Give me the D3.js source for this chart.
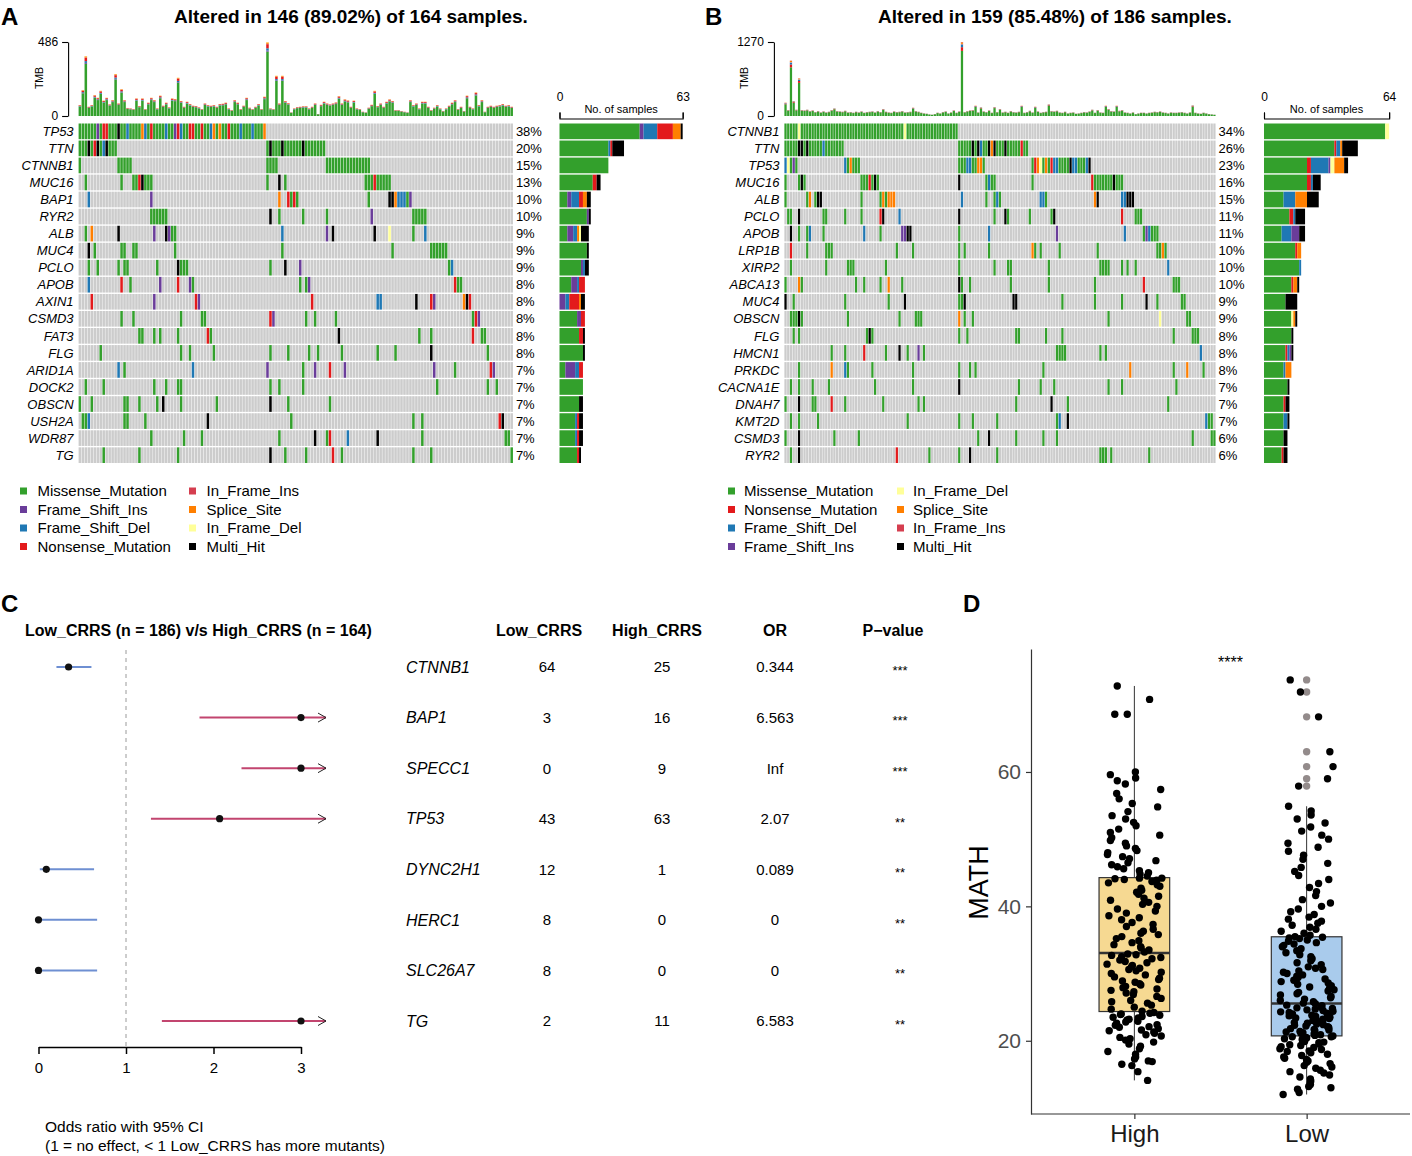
<!DOCTYPE html>
<html>
<head>
<meta charset="utf-8">
<script src="https://cdn.jsdelivr.net/npm/d3@7/dist/d3.min.js"></script>
<style>
html,body{margin:0;padding:0;background:#fff;}
svg text{font-family:"Liberation Sans",Arial,Helvetica,sans-serif;}
</style>
</head>
<body>
<svg id="chart" width="1412" height="1156"></svg>
<script>
// ================= DATA =================
const mutTypeNames = {M:"Missense_Mutation",P:"Frame_Shift_Ins",B:"Frame_Shift_Del",N:"Nonsense_Mutation",I:"In_Frame_Ins",S:"Splice_Site",D:"In_Frame_Del",X:"Multi_Hit"};
const mutColors = {Missense_Mutation:"#33A02C",Frame_Shift_Ins:"#6A3D9A",Frame_Shift_Del:"#1F78B4",Nonsense_Mutation:"#E31A1C",In_Frame_Ins:"#D53E4F",Splice_Site:"#FF7F00",In_Frame_Del:"#FFFF99",Multi_Hit:"#000000"};
const typeOrderA = ["Missense_Mutation","Frame_Shift_Ins","Frame_Shift_Del","Nonsense_Mutation","In_Frame_Ins","Splice_Site","In_Frame_Del","Multi_Hit"];
const typeOrderB = ["Missense_Mutation","Nonsense_Mutation","Frame_Shift_Del","Frame_Shift_Ins","In_Frame_Del","Splice_Site","In_Frame_Ins","Multi_Hit"];

// Panel A (High_CRRS cohort)
const samplesA = 164;
const genesA = ["TP53","TTN","CTNNB1","MUC16","BAP1","RYR2","ALB","MUC4","PCLO","APOB","AXIN1","CSMD3","FAT3","FLG","ARID1A","DOCK2","OBSCN","USH2A","WDR87","TG"];
const mutsA = [
 "0-62M 6P 32P 8N 9N 24N 33N 37N 38N 41N 50N 16B 22B 29B 34B 44B 54B 58B 21S 45S 47S 62S 13X",
 "0-12M 63-82M 3X 6X 9X 64X 68X 75X 5N 8B",
 "0M 13-17M 63-66M 83-97M",
 "2M 14M 18-24M 63M 67X 69M 96-104M 20N 21X 99N",
 "3B 24P 67S 70N 71M 72N 73M 97M 104X 105X 106S 107-109B 110M 111P",
 "24-29M 64X 67M 75M 83M 98P 112-116M",
 "2M 4S 13X 25P 29X 30P 31M 32M 68B 83P 85X 99X 104D 112M 116B",
 "3X 5M 14M 15M 18M 19M 32M 68M 105M 118-123M",
 "3M 6M 13M 15M 16M 26M 33X 34-36M 64M 69X 74P 124M 125B",
 "3B 14N 17M 27P 33N 37P 38M 74M 76M 77P 126N 127M 128M",
 "4N 25P 39N 40P 78N 100B 101B 113X 118N 119P 129S 130X 131N",
 "14M 18M 34M 41M 42M 64N 65P 76M 79M 86M 132M 133N 134P",
 "20M 21M 25M 27M 33M 43N 44M 87X 114M 118M 132N 135M 136M",
 "7M 34M 37M 45M 64M 70M 77M 80M 88M 100M 106M 118X 137M",
 "13B 15M 38B 63P 75M 79P 84N 89P 119P 126M 138N 139P",
 "2M 8M 25M 29M 33M 34M 64M 67M 75M 120M 137M 140M",
 "0M 4M 15M 16M 20M 26M 28X 34M 46M 64X 70M 84M",
 "1M 2M 3B 15M 16M 22M 43X 71M 112M 115M 141N 142X",
 "24M 35M 41M 67M 79X 83M 84N 90B 100X 115M 143M 144M",
 "8M 20M 33M 64X 69M 76M 85N 88M 112M 118M 145M"
];
const tmbA = [72,171,394,61,72,138,120,166,101,120,77,105,276,83,177,105,53,50,46,116,
 66,116,46,88,120,105,50,134,68,88,57,116,112,252,99,61,94,79,68,66,
 57,46,83,72,68,72,61,79,81,88,50,39,105,88,46,68,120,55,46,61,
 79,46,127,486,50,46,265,83,265,99,85,24,50,59,61,64,64,50,61,83,
 13,74,94,83,77,83,90,131,83,110,103,61,101,50,46,28,24,55,74,166,
 66,83,61,94,110,99,39,39,33,28,24,105,72,83,50,94,94,61,39,55,
 72,50,33,50,68,88,105,46,61,33,134,61,50,155,72,105,28,61,68,61,
 68,72,79,68,72,61];
const tmbMixA = [0.87,0.015,0.03,0.055,0.005,0.02,0.005,0];

// Panel B (Low_CRRS cohort)
const samplesB = 186;
const genesB = ["CTNNB1","TTN","TP53","MUC16","ALB","PCLO","APOB","LRP1B","XIRP2","ABCA13","MUC4","OBSCN","FLG","HMCN1","PRKDC","CACNA1E","DNAH7","KMT2D","CSMD3","RYR2"];
const mutsB = [
 "0-63M 5D 44D",
 "0-21M 64-89M 5X 6X 8X 69X 71X 75X 81X 77X 87N 14B 72B 76S",
 "0-4M 22-27M 64-73M 91-112M 0B 1D 3P 22B 24S 67B 68B 71S 72S 92N 93S 94D 96S 98N 99B 100B 105X 106B 107B 111B 112X",
 "0M 5-7M 28-34M 64X 74-77M 91M 113N 114-124M 6X 31N 33X 75B 121X",
 "0M 8M 9S 11M 12X 13X 28M 35M 36S 37M 38S 39S 40S 65B 74M 77M 78B 79M 94B 95B 96M 114S 115X 124B 125B 126-128X",
 "1M 2M 5X 14M 15M 22M 28M 35N 36X 42B 64X 77M 81X 82M 90M 98M 99X 124N 129-131M",
 "2X 5M 8M 9B 14M 29B 35M 43P 44P 45X 46X 64M 75B 100P 125B 132M 133P 134B 135-137M",
 "2N 8M 15-17M 41M 47M 64M 66M 75M 91S 92M 94M 101M 115M 137M 138M 139S 140M",
 "2M 15M 23-25M 37M 64M 77M 82M 83M 97M 116-119M 124M 126M 129M 141B",
 "0M 5S 6M 26M 29M 35M 38S 43M 64X 65M 68M 83M 97M 114M 132N 143-145M",
 "0X 3M 22M 38M 44X 64M 65M 66X 84X 85X 102M 114M 124M 133X 137M 146M 147M",
 "2-4M 5X 6M 23M 42M 48-50M 64S 66M 69M 119M 138D 148M 149M",
 "3M 5M 30M 31X 32M 64M 67M 85M 86M 96M 102M 143M 150-152M",
 "17M 22M 29N 37M 42X 45M 49P 51M 100-103M 116M 118M 153B",
 "5M 17S 22B 23M 32M 47M 64M 68M 70M 95M 127S 143M 148S 154M",
 "2M 5M 10M 16M 33M 47M 64X 86M 94M 99M 119M 124M 144M",
 "0M 5X 10M 11M 17N 22M 36M 49M 51M 85M 98X 104M 141M",
 "2M 5M 12M 45M 64M 69M 78M 100M 101B 104X 155B 156M 157M",
 "0M 5X 18M 27M 71M 75X 85M 95M 100M 150M 157M 158M",
 "2M 5X 41N 53M 64M 68X 78M 116-118M 120M 134M"
];
const tmbB = [229,103,950,257,109,646,103,97,109,86,97,69,86,63,80,63,74,103,131,86,
 80,74,91,63,69,57,74,63,80,57,69,74,80,63,86,69,120,74,63,57,
 80,69,74,86,63,69,74,143,86,74,57,46,40,29,23,34,57,46,69,80,
 46,63,97,57,80,1270,69,86,97,103,177,63,149,80,69,97,57,154,69,120,
 63,74,57,86,69,63,74,177,57,69,91,63,160,80,57,69,74,200,86,80,
 91,63,57,74,46,57,63,40,46,57,69,63,80,109,57,103,63,57,177,120,
 86,80,177,91,103,63,57,46,63,34,46,57,57,46,57,63,74,69,80,63,
 57,46,63,57,57,63,69,57,46,63,183,57,46,40,57,46,34,29,23];
const tmbMixB = [0.88,0.05,0.03,0.01,0.005,0.02,0.005,0];

// Panel C (forest plot)
const cGenes = ["CTNNB1","BAP1","SPECC1","TP53","DYNC2H1","HERC1","SLC26A7","TG"];
const cLow = [64,3,0,43,12,8,8,2];
const cHigh = [25,16,9,63,1,0,0,11];
const cOR = [0.344,6.563,Infinity,2.07,0.089,0,0,6.583];
const cCILow = [0.205,1.84,2.32,1.285,0.015,0,0,1.41];
const cCIHigh = [0.605,34,Infinity,3.4,0.635,0.67,0.67,63];
const cP = ["***","***","***","**","**","**","**","**"];
const cTicks = [0,1,2,3];

// Panel D (MATH boxplot)
const mathGroups = ["High","Low"];
const mathHigh = [14.1,15.4,16.3,16.5,16.9,17.0,17.3,17.6,18.0,18.4,18.8,19.2,19.5,19.8,20.1,20.3,20.5,20.7,20.9,21.1,21.3,21.5,21.6,21.8,22.0,22.1,22.3,22.4,22.6,22.8,22.9,23.1,23.2,23.4,23.5,23.6,23.8,23.9,24.0,24.1,24.2,
 24.4,24.7,25.0,25.3,25.6,25.8,26.0,26.3,26.6,26.9,27.1,27.3,27.5,27.7,27.9,28.1,28.3,28.5,28.7,28.9,29.1,29.3,29.5,29.8,30.0,30.2,30.4,30.6,30.8,31.0,31.2,31.4,31.6,31.8,32.0,32.2,32.4,32.5,32.7,32.8,32.9,
 33.2,33.5,33.8,34.0,34.3,34.6,34.9,35.2,35.5,35.8,36.0,36.3,36.6,37.0,37.3,37.6,38.0,38.3,38.6,39.0,39.3,39.6,40.0,40.3,40.6,40.9,41.2,41.5,41.8,42.1,42.4,42.7,43.0,43.2,43.5,43.7,43.9,44.0,44.1,44.2,44.2,
 44.5,44.8,45.0,45.3,45.6,45.9,46.2,46.5,46.8,47.1,47.4,47.7,48.0,48.3,48.6,49.0,49.4,49.8,50.2,50.6,51.0,51.5,52.0,52.5,53.0,53.5,54.1,54.8,55.3,56.0,56.8,57.4,58.2,58.7,59.1,59.6,60.0,68.6,68.6,70.8,72.8];
const mathLow = [12.0,12.3,12.8,13.0,13.2,13.5,13.8,14.0,14.3,14.6,14.9,15.2,15.4,15.6,15.9,16.1,16.3,16.6,16.8,17.0,17.2,17.4,17.6,17.8,18.0,18.2,18.4,18.5,18.7,18.8,19.0,19.1,19.3,19.4,19.5,19.7,19.8,19.9,20.0,20.1,20.2,20.3,20.4,20.5,20.6,20.6,20.7,
 20.8,20.9,21.0,21.1,21.2,21.3,21.4,21.5,21.6,21.7,21.8,21.9,22.0,22.1,22.2,22.3,22.4,22.5,22.6,22.7,22.8,22.9,23.0,23.1,23.2,23.3,23.4,23.5,23.6,23.7,23.8,23.9,24.0,24.1,24.2,24.3,24.4,24.5,24.6,24.7,24.8,24.9,25.0,25.2,25.3,25.5,
 25.6,25.8,26.0,26.2,26.4,26.6,26.8,27.0,27.2,27.4,27.6,27.8,28.0,28.2,28.4,28.6,28.8,29.0,29.2,29.4,29.6,29.8,30.0,30.2,30.4,30.6,30.8,31.0,31.3,31.6,31.9,32.2,32.5,32.8,33.1,33.4,33.7,34.0,34.2,34.4,34.6,34.8,35.0,35.2,35.3,35.4,
 35.5,35.7,36.0,36.3,36.6,36.9,37.2,37.5,37.8,38.1,38.4,38.8,39.2,39.6,40.0,40.5,41.0,41.6,42.2,42.8,43.4,44.0,44.6,45.2,45.8,46.4,47.0,47.6,48.2,48.8,49.4,50.0,50.6,51.2,51.8,52.4,53.0,53.6,54.2,54.9,
 57.9,59.0,60.8,63.0,68.2,71.9,73.7];
const mathFill = {High:"#F6D992",Low:"#A9CBEC"};
const mathYTicks = [20,40,60];
const mathSig = "****";

// ================= DRAWING =================
const svg = d3.select("#chart");
const intFmt = d3.format("d");

function decode(str, n){
  const arr = new Array(n).fill(null);
  str.trim().split(/\s+/).forEach(tok=>{
    const m = tok.match(/^(\d+)(?:-(\d+))?([A-Z])$/);
    const a = +m[1], b = m[2] ? +m[2] : a;
    for(let i=a;i<=b;i++) arr[i] = mutTypeNames[m[3]];
  });
  return arr;
}

function panelLetter(x, y, t){
  svg.append("text").attr("x",x).attr("y",y).attr("font-size",24).attr("font-weight","bold").text(t);
}

function drawOnco(p){
  const g = svg.append("g");
  const nCols = p.tmb.length;
  const x = d3.scaleBand().domain(d3.range(nCols)).range([p.mx0, p.mx1]);
  const y = d3.scaleBand().domain(p.genes).range([123.5, 463]).paddingInner(0.08);
  const rows = p.genes.map((gn,i)=>({gene:gn, cells:decode(p.muts[i], nCols)}));
  const cw = x.bandwidth() - 0.45;

  panelLetter(p.letterX, 25, p.letter);
  g.append("text").attr("x",p.titleX).attr("y",23).attr("text-anchor","middle")
    .attr("font-size",19).attr("font-weight","bold")
    .text(`Altered in ${nCols} (${(nCols/p.nSamples*100).toFixed(2)}%) of ${p.nSamples} samples.`);

  // TMB stacked bars
  const tmax = d3.max(p.tmb);
  const ty = d3.scaleLinear().domain([0,tmax]).range([116,42]);
  const segs = [];
  p.tmb.forEach((v,i)=>{
    let acc = 0;
    p.tmbMix.forEach((f,k)=>{ if(f>0){ segs.push({i, t:p.typeOrder[k], v0:acc, v1:acc+v*f}); acc += v*f; } });
  });
  g.append("g").selectAll("rect").data(segs).join("rect")
    .attr("x",d=>x(d.i)).attr("width",cw)
    .attr("y",d=>ty(d.v1)).attr("height",d=>Math.max(0,ty(d.v0)-ty(d.v1)))
    .attr("fill",d=>mutColors[d.t]);
  const ax = g.append("g").attr("transform",`translate(${p.mx0-10.5},0)`)
    .call(d3.axisLeft(ty).tickValues([0,tmax]).tickFormat(intFmt).tickSize(6).tickSizeOuter(0).tickPadding(4));
  ax.selectAll("text").attr("font-size",12).attr("fill","#000");
  ax.selectAll("line,path").attr("stroke","#000").attr("stroke-width",1.1);
  g.append("text").attr("transform",`translate(${p.mx0-36},78) rotate(-90)`)
    .attr("text-anchor","middle").attr("font-size",10.5).text("TMB");

  // oncoplot matrix
  const cellData = [];
  rows.forEach(r=>r.cells.forEach((t,i)=>cellData.push({gene:r.gene, i, t})));
  g.append("g").selectAll("rect").data(cellData).join("rect")
    .attr("x",d=>x(d.i)).attr("y",d=>y(d.gene)).attr("width",cw).attr("height",y.bandwidth())
    .attr("fill",d=>d.t ? mutColors[d.t] : "#CCCCCC");

  // gene labels
  g.append("g").selectAll("text").data(rows).join("text")
    .attr("x",p.mx0-5).attr("y",d=>y(d.gene)+y.bandwidth()/2).attr("dy","0.36em")
    .attr("text-anchor","end").attr("font-size",13).attr("font-style","italic").text(d=>d.gene);
  // percentages
  g.append("g").selectAll("text").data(rows).join("text")
    .attr("x",p.mx1+2.5).attr("y",d=>y(d.gene)+y.bandwidth()/2).attr("dy","0.36em")
    .attr("font-size",13).text(d=>Math.round(d.cells.filter(Boolean).length/p.nSamples*100)+"%");

  // side bars
  const maxCount = d3.max(rows, r=>r.cells.filter(Boolean).length);
  const bx = d3.scaleLinear().domain([0,maxCount]).range([p.bx0, p.bx0 + maxCount*1.955]);
  const bsegs = [];
  rows.forEach(r=>{
    let acc = 0;
    p.typeOrder.forEach(t=>{ const c = r.cells.filter(v=>v===t).length; if(c){ bsegs.push({gene:r.gene, t, c0:acc, c1:acc+c}); acc += c; } });
  });
  g.append("g").selectAll("rect").data(bsegs).join("rect")
    .attr("x",d=>bx(d.c0)).attr("width",d=>bx(d.c1)-bx(d.c0))
    .attr("y",d=>y(d.gene)).attr("height",y.bandwidth())
    .attr("fill",d=>mutColors[d.t]);
  const bax = g.append("g").attr("transform","translate(0,118.5)")
    .call(d3.axisTop(bx).tickValues([0,maxCount]).tickFormat(intFmt).tickSize(6).tickSizeOuter(6).tickPadding(12));
  bax.selectAll("text").attr("font-size",12).attr("fill","#000");
  bax.selectAll("line,path").attr("stroke","#000").attr("stroke-width",1.1);
  g.append("text").attr("x",(bx(0)+bx(maxCount))/2).attr("y",113).attr("text-anchor","middle")
    .attr("font-size",11).text("No. of samples");

  // legend
  const lg = g.append("g").selectAll("g").data(p.typeOrder).join("g")
    .attr("transform",(d,k)=>`translate(${p.legX[Math.floor(k/4)]},${491 + (k%4)*18.5})`);
  lg.append("rect").attr("x",0).attr("y",-3.5).attr("width",7).attr("height",7).attr("fill",d=>mutColors[d]);
  lg.append("text").attr("x",p.legTextDx).attr("y",0).attr("dy","0.36em").attr("font-size",15).text(d=>d);
}

drawOnco({letter:"A", letterX:1, titleX:351, nSamples:samplesA, genes:genesA, muts:mutsA, tmb:tmbA, tmbMix:tmbMixA,
  typeOrder:typeOrderA, mx0:78.6, mx1:513.4, bx0:559.5, legX:[20,189], legTextDx:17.5});
drawOnco({letter:"B", letterX:705, titleX:1055, nSamples:samplesB, genes:genesB, muts:mutsB, tmb:tmbB, tmbMix:tmbMixB,
  typeOrder:typeOrderB, mx0:784.4, mx1:1216, bx0:1264, legX:[728,897], legTextDx:16});

// ----- Panel C -----
(function(){
  const g = svg.append("g");
  panelLetter(1, 612, "C");
  g.append("text").attr("x",25).attr("y",636).attr("font-size",16).attr("font-weight","bold")
    .text(`Low_CRRS (n = ${samplesB}) v/s High_CRRS (n = ${samplesA})`);
  const cols = [{x:539,t:"Low_CRRS"},{x:657,t:"High_CRRS"},{x:775,t:"OR"},{x:893,t:"P\u2212value"}];
  g.selectAll("text.hdr").data(cols).join("text").attr("class","hdr")
    .attr("x",d=>d.x).attr("y",636).attr("text-anchor","middle").attr("font-size",16).attr("font-weight","bold").text(d=>d.t);

  const fx = d3.scaleLinear().domain([0,3]).range([38.5,301]);
  const fy = d3.scalePoint().domain(cGenes).range([667,1021]);
  g.append("line").attr("x1",fx(1)).attr("x2",fx(1)).attr("y1",650).attr("y2",1047)
    .attr("stroke","#9a9a9a").attr("stroke-width",1).attr("stroke-dasharray","4,4");

  const rows = cGenes.map((gene,i)=>({gene, low:cLow[i], high:cHigh[i], or:cOR[i], lo:cCILow[i], hi:cCIHigh[i], p:cP[i]}));
  const capX = fx(3)+25;
  g.append("g").selectAll("line").data(rows).join("line")
    .attr("x1",d=>fx(d.lo)).attr("x2",d=>d.hi>3 ? capX : fx(d.hi))
    .attr("y1",d=>fy(d.gene)).attr("y2",d=>fy(d.gene))
    .attr("stroke",d=>d.or<1 ? "#6E8FD2" : "#C2456F").attr("stroke-width",2);
  g.append("g").selectAll("path").data(rows.filter(d=>d.hi>3)).join("path")
    .attr("d",d=>`M${capX-8},${fy(d.gene)-4.5}L${capX},${fy(d.gene)}L${capX-8},${fy(d.gene)+4.5}`)
    .attr("fill","none").attr("stroke","#222").attr("stroke-width",1);
  g.append("g").selectAll("circle").data(rows).join("circle")
    .attr("cx",d=>fx(Math.min(d.or,3))).attr("cy",d=>fy(d.gene)).attr("r",3.6).attr("fill","#111");

  const ax = g.append("g").attr("transform","translate(0,1047)")
    .call(d3.axisBottom(fx).tickValues(cTicks).tickFormat(intFmt).tickSize(7).tickSizeOuter(0).tickPadding(8));
  ax.selectAll("text").attr("font-size",15).attr("fill","#000");
  ax.selectAll("line,path").attr("stroke","#000").attr("stroke-width",1.5);

  const tg = g.append("g");
  const put = (xx, fn, opts={})=> tg.append("g").selectAll("text").data(rows).join("text")
    .attr("x",xx).attr("y",d=>fy(d.gene)).attr("dy",opts.dy||"0.36em")
    .attr("text-anchor",opts.anchor||"middle").attr("font-size",opts.size||15)
    .attr("font-style",opts.italic?"italic":null).text(fn);
  put(406, d=>d.gene, {anchor:"start", italic:true, size:16});
  put(547, d=>d.low);
  put(662, d=>d.high);
  put(775, d=>isFinite(d.or) ? String(d.or) : "Inf");
  put(900, d=>d.p, {size:13, dy:"0.6em"});

  g.append("text").attr("x",45).attr("y",1131.5).attr("font-size",15.5).text("Odds ratio with 95% CI");
  g.append("text").attr("x",45).attr("y",1150.5).attr("font-size",15.5).text("(1 = no effect, < 1 Low_CRRS has more mutants)");
})();

// ----- Panel D -----
(function(){
  const g = svg.append("g");
  panelLetter(963, 612, "D");
  const left = 1031, right = 1410, top = 649, bottom = 1114;
  const yD = d3.scaleLinear().domain([9.1,78.3]).range([bottom, top]);
  const xD = d3.scaleLinear().domain([0.4,2.6]).range([left, right]);
  const xCat = d3.scalePoint().domain(mathGroups).range([xD(1), xD(2)]);
  const groups = [{name:"High", vals:mathHigh}, {name:"Low", vals:mathLow}];
  const halfW = xD(1.205)-xD(1);

  function jit(i, seed){ const s = Math.sin((i+1)*12.9898 + seed*78.233)*43758.5453; return (s-Math.floor(s))*2-1; }

  groups.forEach((gr,gi)=>{
    const v = gr.vals.slice().sort(d3.ascending);
    const q1 = d3.quantile(v,0.25), med = d3.quantile(v,0.5), q3 = d3.quantile(v,0.75);
    const iqr = q3-q1;
    const wLo = d3.min(v.filter(d=>d>=q1-1.5*iqr)), wHi = d3.max(v.filter(d=>d<=q3+1.5*iqr));
    const outl = v.filter(d=>d<wLo || d>wHi);
    const cx = xCat(gr.name);
    g.append("line").attr("x1",cx).attr("x2",cx).attr("y1",yD(wLo)).attr("y2",yD(wHi)).attr("stroke","#333").attr("stroke-width",1);
    g.append("rect").attr("x",cx-halfW).attr("width",2*halfW).attr("y",yD(q3)).attr("height",yD(q1)-yD(q3))
      .attr("fill",mathFill[gr.name]).attr("stroke","#333").attr("stroke-width",1.2);
    g.append("line").attr("x1",cx-halfW).attr("x2",cx+halfW).attr("y1",yD(med)).attr("y2",yD(med)).attr("stroke","#333").attr("stroke-width",2.6);
    g.append("g").selectAll("circle").data(outl).join("circle")
      .attr("cx",cx).attr("cy",d=>yD(d)).attr("r",3.7).attr("fill","#938b8b");
    g.append("g").selectAll("circle").data(gr.vals).join("circle")
      .attr("cx",(d,i)=>cx + jit(i,gi+1)*(xD(1.16)-xD(1))).attr("cy",d=>yD(d)).attr("r",3.7).attr("fill","#000");
  });

  const ay = g.append("g").attr("transform",`translate(${left},0)`)
    .call(d3.axisLeft(yD).tickValues(mathYTicks).tickSize(5).tickSizeOuter(0).tickPadding(5));
  ay.selectAll("text").attr("font-size",21).attr("fill","#4D4D4D");
  ay.selectAll("line,path").attr("stroke","#333").attr("stroke-width",1.2);
  const axb = g.append("g").attr("transform",`translate(0,${bottom})`)
    .call(d3.axisBottom(xCat).tickSize(5).tickSizeOuter(0).tickPadding(6));
  axb.select(".domain").remove();
  axb.selectAll("text").attr("font-size",24).attr("fill","#1a1a1a");
  axb.selectAll("line").attr("stroke","#333").attr("stroke-width",1.2);
  g.append("line").attr("x1",left).attr("x2",right).attr("y1",bottom).attr("y2",bottom).attr("stroke","#333").attr("stroke-width",1.2);

  g.append("text").attr("transform",`translate(978,${(top+bottom)/2+1}) rotate(-90)`).attr("text-anchor","middle")
    .attr("dy","0.36em").attr("font-size",27).text("MATH");
  g.append("text").attr("x",(xCat("High")+xCat("Low"))/2+10).attr("y",668).attr("text-anchor","middle")
    .attr("font-size",16).text(mathSig);
})();
</script>
</body>
</html>
